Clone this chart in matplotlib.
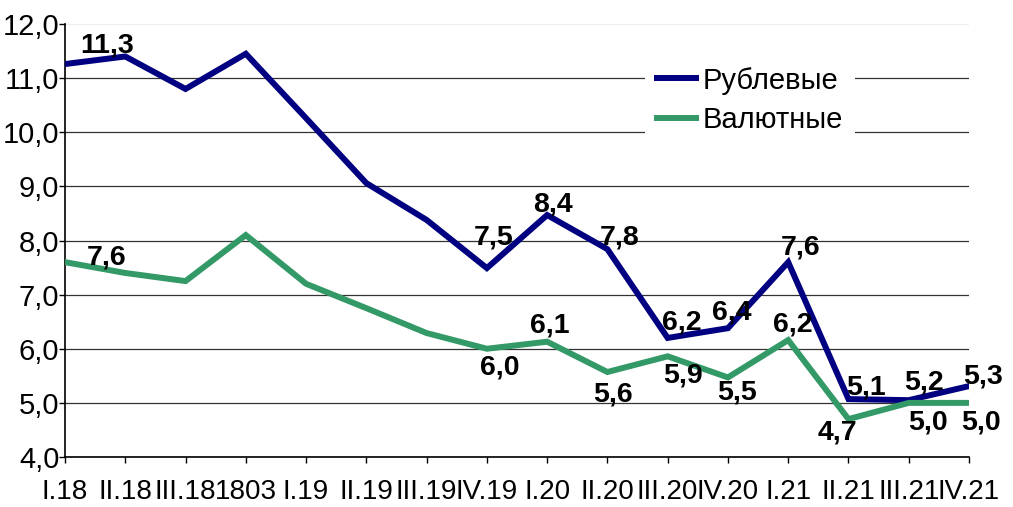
import numpy as np
import matplotlib.pyplot as plt
import matplotlib
matplotlib.rcParams['font.family'] = ['Liberation Sans', 'DejaVu Sans']

# кварталы и ставки (%)
quarters = ['I.18', 'II.18', 'III.18', '1803', 'I.19', 'II.19', 'III.19', 'IV.19',
            'I.20', 'II.20', 'III.20', 'IV.20', 'I.21', 'II.21', 'III.21', 'IV.21']
rub = [11.26, 11.4, 10.8, 11.45, 10.26, 9.06, 8.38, 7.49,
       8.47, 7.84, 6.2, 6.38, 7.6, 5.07, 5.05, 5.31]
val = [7.6, 7.4, 7.25, 8.1, 7.2, 6.75, 6.29, 6.0,
       6.13, 5.57, 5.86, 5.47, 6.16, 4.7, 5.0, 5.0]

# подписи точек: индекс -> текст
rub_labels = {0: '11,3', 7: '7,5', 8: '8,4', 9: '7,8', 10: '6,2',
              11: '6,4', 12: '7,6', 13: '5,1', 14: '5,2', 15: '5,3'}
val_labels = {0: '7,6', 7: '6,0', 8: '6,1', 9: '5,6', 10: '5,9',
              11: '5,5', 12: '6,2', 13: '4,7', 14: '5,0', 15: '5,0'}

# смещения подписей в пикселях (dx, dy вверх)
rub_off = {0: (42, 19), 7: (7, 31), 8: (6, 11), 9: (12, 12), 10: (14, 15),
           11: (4, 16), 12: (12, 15), 13: (18, 12), 14: (15, 18), 15: (14, 10)}
val_off = {0: (42, 5), 7: (13, -19), 8: (3, 16), 9: (6, -22), 10: (15, -19),
           11: (9, -15), 12: (5, 16), 13: (-11, -13), 14: (19, -20), 15: (12, -20)}

navy = '#000080'
green = '#339966'

fig = plt.figure(figsize=(10.13, 5.07), dpi=100)
ax = fig.add_axes([65 / 1013, 50 / 507, 904 / 1013, 433 / 507])

x = np.arange(len(quarters))
ax.plot(x, rub, color=navy, linewidth=4.3, solid_joinstyle='miter', label='Рублевые', zorder=3)
ax.plot(x, val, color=green, linewidth=4.3, solid_joinstyle='miter', label='Валютные', zorder=3)

for labels, offs, series in [(rub_labels, rub_off, rub), (val_labels, val_off, val)]:
    for i, txt in labels.items():
        dx, dy = offs[i]
        ax.annotate(txt, (x[i], series[i]), xytext=(dx * 0.72, dy * 0.72),
                    textcoords='offset points', ha='center', va='center',
                    fontsize=20.5, fontweight='bold', zorder=4, annotation_clip=False)

ax.set_xlim(0, len(quarters) - 1)
ax.set_ylim(4, 12)
ax.set_yticks(np.arange(4, 12.5, 1))
ax.set_yticklabels([f'{v:.1f}'.replace('.', ',') for v in np.arange(4, 12.5, 1)], fontsize=21)
ax.set_xticks(x)
ax.set_xticklabels(quarters, fontsize=20)
ax.tick_params(axis='y', length=4, pad=0, width=1)
ax.tick_params(axis='x', length=4, pad=12, width=1)

ax.grid(axis='y', color='#333333', linewidth=0.9, zorder=1)
ax.get_ygridlines()[-1].set_alpha(0.08)
for s in ['top', 'right']:
    ax.spines[s].set_visible(False)
for s in ['left', 'bottom']:
    ax.spines[s].set_linewidth(1.2)

leg = ax.legend(loc='upper left', bbox_to_anchor=(645 / 1013, (507 - 55) / 507),
                bbox_transform=fig.transFigure, fontsize=21, frameon=True,
                fancybox=False, borderaxespad=0, borderpad=0.4,
                handlelength=1.35, handletextpad=0.22, labelspacing=0.4)
leg.get_frame().set_facecolor('white')
leg.get_frame().set_edgecolor('none')
leg.get_frame().set_alpha(1)

plt.savefig('out.png', dpi=100)
